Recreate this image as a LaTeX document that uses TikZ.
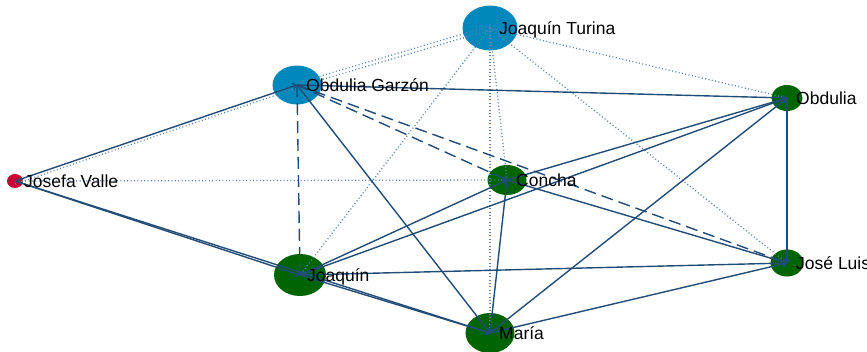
\documentclass[tikz,border=0pt]{standalone}
\usepackage{fontspec}
\setmainfont{Liberation Sans}
\usetikzlibrary{arrows.meta,shapes.geometric}

\definecolor{edgeblue}{RGB}{33,76,120}
\definecolor{dotblue}{RGB}{95,130,170}
\definecolor{personblue}{RGB}{0,136,188}
\definecolor{leafgreen}{RGB}{0,100,0}
\definecolor{rootred}{RGB}{200,0,52}

\tikzset{
  person/.style={ellipse, inner sep=0pt, draw=none},
  link/.style={draw=edgeblue, line width=1.4pt, -{Straight Barb[length=3pt,width=6pt]}},
  dashlink/.style={link, dash pattern=on 12pt off 6pt},
  dotlink/.style={draw=dotblue, line width=1.3pt, dash pattern=on 1pt off 2.4pt},
  tag/.style={anchor=base west, inner sep=0pt, font=\fontsize{17.5}{21}\selectfont}
}

\begin{document}
\begin{tikzpicture}[x=1pt,y=-1pt]
  \useasboundingbox (0,0) rectangle (867,351);
  \clip (0,0) rectangle (867,351);

  % people
  \node[person, fill=personblue, minimum width=55pt, minimum height=45pt] (tu) at (490,28) {};
  \node[person, fill=personblue, minimum width=49pt, minimum height=39pt] (og) at (297,85) {};
  \node[person, fill=rootred,    minimum width=16pt, minimum height=14pt] (jv) at (15,181) {};
  \node[person, fill=leafgreen,  minimum width=39pt, minimum height=30pt] (co) at (507,180) {};
  \node[person, fill=leafgreen,  minimum width=52pt, minimum height=42pt] (jq) at (300,275) {};
  \node[person, fill=leafgreen,  minimum width=49pt, minimum height=40pt] (ma) at (490,333) {};
  \node[person, fill=leafgreen,  minimum width=31pt, minimum height=26pt] (ob) at (787,98) {};
  \node[person, fill=leafgreen,  minimum width=33pt, minimum height=27pt] (jl) at (787,263) {};

  % dotted ties from Joaquín Turina and Josefa Valle
  \draw[dotlink] ([yshift=-2pt]tu.center) -- ([yshift=-2pt]og.center);
  \draw[dotlink] ([yshift=2pt]tu.center) -- ([yshift=2pt]og.center);
  \draw[dotlink] (tu.center) -- (jq.center);
  \draw[dotlink] (tu.center) -- (co.center);
  \draw[dotlink] (tu.center) -- (ma.center);
  \draw[dotlink] (tu.center) -- (jl.center);
  \draw[dotlink] (tu.center) -- (ob.center);
  \draw[dotlink] ([yshift=-3pt]jv.center) -- ([yshift=-3pt]og.center);
  \draw[dotlink] (jv.center) -- (co.center);

  % dashed ties
  \draw[dashlink] (og.center) -- (jq.center);
  \draw[dashlink] (og.center) -- (co.center);
  \draw[dashlink] (og.center) -- (jl.center);

  % solid ties
  \draw[link] (jv.center) -- (og.center);
  \draw[link] (jv.center) -- (jq.center);
  \draw[link] (jv.center) -- (ma.center);
  \draw[link] (og.center) -- (ma.center);
  \draw[link] (og.center) -- (ob.center);
  \draw[link] (jq.center) -- (co.center);
  \draw[link] (jq.center) -- (ob.center);
  \draw[link] (jq.center) -- (jl.center);
  \draw[link] (jq.center) -- (ma.center);
  \draw[link] (co.center) -- (ma.center);
  \draw[link] (co.center) -- (ob.center);
  \draw[link] (co.center) -- (jl.center);
  \draw[link] (ma.center) -- (ob.center);
  \draw[link] (ma.center) -- (jl.center);
  \draw[link] (ob.center) -- (jl.center);

  % names
  \node[tag] at ([xshift=9pt,yshift=-6pt]tu.center) {Joaquín Turina};
  \node[tag] at ([xshift=9pt,yshift=-6pt]og.center) {Obdulia Garzón};
  \node[tag] at ([xshift=9pt,yshift=-6pt]jv.center) {Josefa Valle};
  \node[tag] at ([xshift=9pt,yshift=-6pt]co.center) {Concha};
  \node[tag] at ([xshift=7pt,yshift=-6pt]jq.center) {Joaquín};
  \node[tag] at ([xshift=9pt,yshift=-6pt]ma.center) {María};
  \node[tag] at ([xshift=9pt,yshift=-6pt]ob.center) {Obdulia};
  \node[tag] at ([xshift=9pt,yshift=-6pt]jl.center) {José Luis};
\end{tikzpicture}
\end{document}
